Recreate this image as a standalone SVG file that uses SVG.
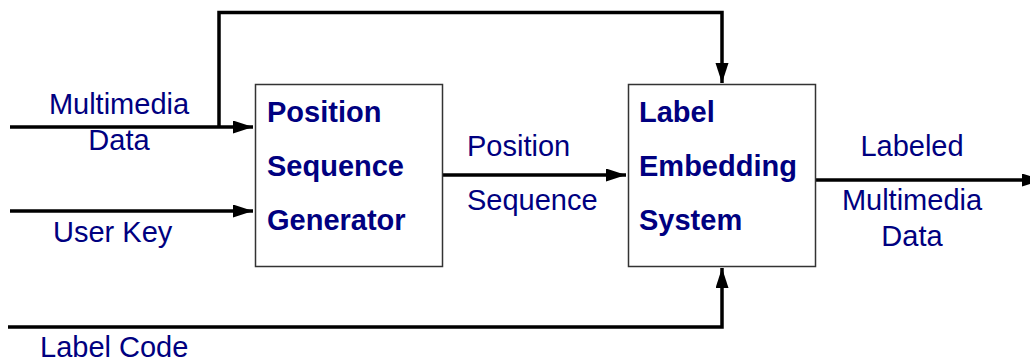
<svg xmlns="http://www.w3.org/2000/svg" width="1030" height="362" viewBox="0 0 1030 362">
<style>
.box{fill:#fff;stroke:#333;stroke-width:1.5}
.bt{font-family:"Liberation Sans",Arial,sans-serif;font-size:29px;font-weight:bold;fill:#000080}
.lt{font-family:"Liberation Sans",Arial,sans-serif;font-size:29px;fill:#000080}
.c{text-anchor:middle}
.ln{fill:none;stroke:#000;stroke-width:3.5;stroke-linejoin:miter;stroke-linecap:butt}
</style>
<defs>
<marker id="ah" markerUnits="userSpaceOnUse" markerWidth="21" markerHeight="14" refX="20" refY="6.5" orient="auto">
<path d="M0,0 L20,6.5 L0,13 z" fill="#000"/>
</marker>
</defs>
<rect width="1030" height="362" fill="#fff"/>
<g id="connectors">
<path class="ln" d="M10,127 H253" marker-end="url(#ah)"/>
<path class="ln" d="M219,128 V12.5 H722 V83" marker-end="url(#ah)"/>
<path class="ln" d="M10,211 H253" marker-end="url(#ah)"/>
<path class="ln" d="M443,175 H626" marker-end="url(#ah)"/>
<path class="ln" d="M816,180 H1042" marker-end="url(#ah)"/>
<path class="ln" d="M8,327 H722 V268" marker-end="url(#ah)"/>
</g>
<g id="labels">
<text class="lt c" x="119" y="114">Multimedia</text>
<text class="lt c" x="119" y="150">Data</text>
<text class="lt" x="53" y="242">User Key</text>
<text class="lt" x="40" y="357">Label Code</text>
<text class="lt" x="467" y="156">Position</text>
<text class="lt" x="467" y="210">Sequence</text>
<text class="lt c" x="912" y="156">Labeled</text>
<text class="lt c" x="912" y="210">Multimedia</text>
<text class="lt c" x="912" y="246">Data</text>
</g>
<g id="position-sequence-generator">
<rect class="box" x="255.5" y="84.5" width="187" height="182"/>
<text class="bt" x="267" y="122">Position</text>
<text class="bt" x="267" y="176">Sequence</text>
<text class="bt" x="267" y="230">Generator</text>
</g>
<g id="label-embedding-system">
<rect class="box" x="628.5" y="84.5" width="187" height="182"/>
<text class="bt" x="639" y="122">Label</text>
<text class="bt" x="639" y="176">Embedding</text>
<text class="bt" x="639" y="230">System</text>
</g>
</svg>
